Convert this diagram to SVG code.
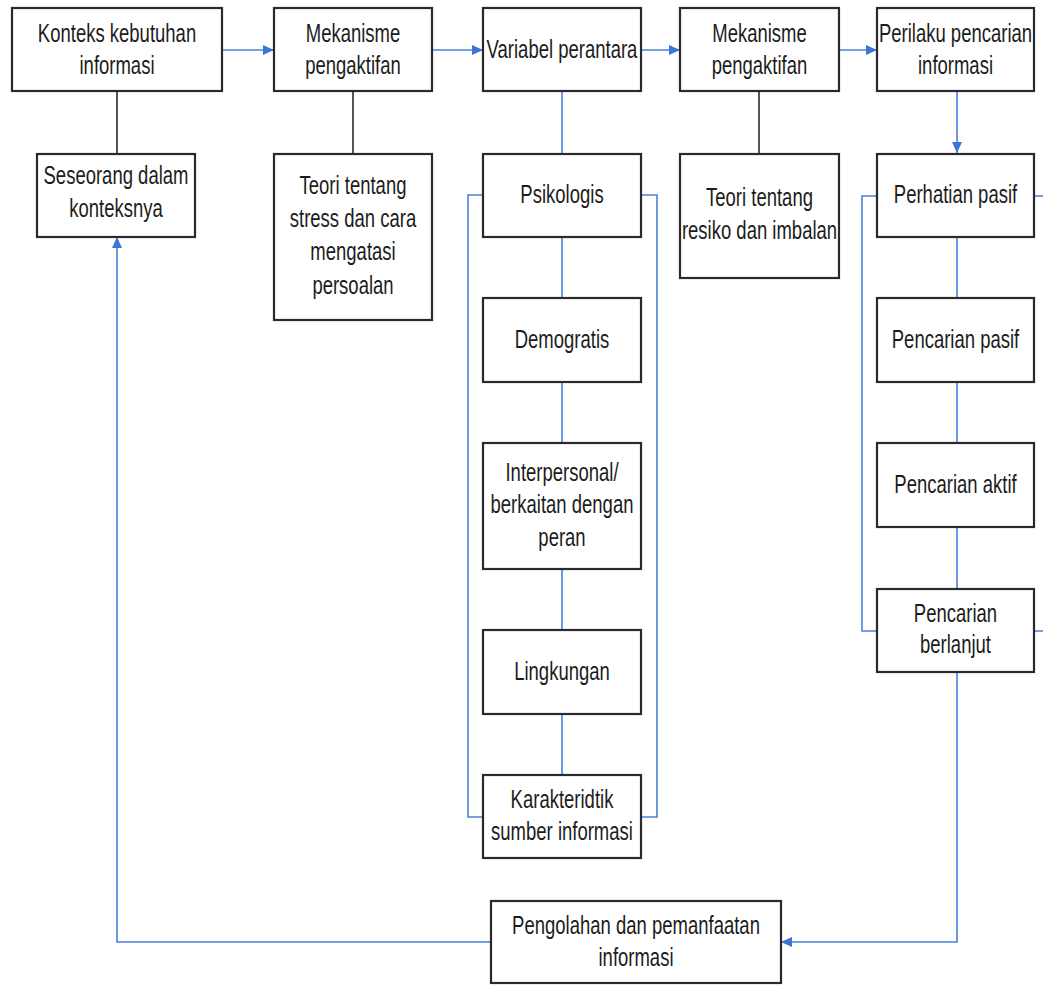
<svg xmlns="http://www.w3.org/2000/svg" width="1043" height="985" viewBox="0 0 1043 985">
<style>
.box{fill:#fff;stroke:#2a2a2a;stroke-width:2.2}
.t{font-family:"Liberation Sans",Arial,sans-serif;font-size:25px;fill:#1c1c1c;text-anchor:middle}
.bl{fill:none;stroke:#4a80dc;stroke-width:1.6}
.bk{fill:none;stroke:#2a2a2a;stroke-width:1.6}
</style>
<defs>
<marker id="ah" markerUnits="userSpaceOnUse" markerWidth="11" markerHeight="10" refX="11" refY="5" orient="auto">
<path d="M0,0 L11,5 L0,10 z" fill="#3a76d8"/>
</marker>
</defs>
<g id="connectors">
<path class="bl" d="M222,50 H274" marker-end="url(#ah)"/>
<path class="bl" d="M432,50 H483" marker-end="url(#ah)"/>
<path class="bl" d="M641,50 H680" marker-end="url(#ah)"/>
<path class="bl" d="M839,50 H877" marker-end="url(#ah)"/>
<path class="bk" d="M117,91 V153"/>
<path class="bk" d="M353,91 V154"/>
<path class="bk" d="M759,91 V154"/>
<path class="bl" d="M562,91 V153"/>
<path class="bl" d="M957,91 V153" marker-end="url(#ah)"/>
<path class="bl" d="M562,237 V298 M562,382 V443 M562,569 V630 M562,714 V775"/>
<path class="bl" d="M483,195 H468 V817 H483"/>
<path class="bl" d="M641,195 H657 V817 H641"/>
<path class="bl" d="M957,237 V298 M957,382 V443 M957,527 V589"/>
<path class="bl" d="M877,196 H862 V631 H877"/>
<path class="bl" d="M1034,196 H1043 M1034,631 H1043"/>
<path class="bl" d="M957,672 V942 H781" marker-end="url(#ah)"/>
<path class="bl" d="M491,942 H117 V237" marker-end="url(#ah)"/>
</g>
<g id="n-konteks"><rect class="box" x="12" y="8" width="210" height="83"/><text class="t" transform="translate(117 41.5) scale(.74 1)"><tspan x="0">Konteks kebutuhan</tspan><tspan x="0" dy="33">informasi</tspan></text></g>
<g id="n-mek1"><rect class="box" x="274" y="8" width="158" height="83"/><text class="t" transform="translate(353 41.5) scale(.74 1)"><tspan x="0">Mekanisme</tspan><tspan x="0" dy="33">pengaktifan</tspan></text></g>
<g id="n-variabel"><rect class="box" x="483" y="8" width="158" height="83"/><text class="t" transform="translate(562 57.5) scale(.74 1)">Variabel perantara</text></g>
<g id="n-mek2"><rect class="box" x="680" y="8" width="159" height="83"/><text class="t" transform="translate(759.5 41.5) scale(.74 1)"><tspan x="0">Mekanisme</tspan><tspan x="0" dy="33">pengaktifan</tspan></text></g>
<g id="n-perilaku"><rect class="box" x="877" y="8" width="157" height="83"/><text class="t" transform="translate(955.5 41.5) scale(.74 1)"><tspan x="0">Perilaku pencarian</tspan><tspan x="0" dy="33">informasi</tspan></text></g>
<g id="n-seseorang"><rect class="box" x="37" y="154" width="158" height="83"/><text class="t" transform="translate(116 184) scale(.74 1)"><tspan x="0">Seseorang dalam</tspan><tspan x="0" dy="33">konteksnya</tspan></text></g>
<g id="n-teori-stress"><rect class="box" x="274" y="154" width="158" height="166"/><text class="t" transform="translate(353 193.5) scale(.74 1)"><tspan x="0">Teori tentang</tspan><tspan x="0" dy="33.5">stress dan cara</tspan><tspan x="0" dy="33.5">mengatasi</tspan><tspan x="0" dy="33.5">persoalan</tspan></text></g>
<g id="n-psikologis"><rect class="box" x="483" y="154" width="158" height="83"/><text class="t" transform="translate(562 202.5) scale(.74 1)">Psikologis</text></g>
<g id="n-teori-resiko"><rect class="box" x="680" y="154" width="159" height="124"/><text class="t" transform="translate(759.5 205.5) scale(.74 1)"><tspan x="0">Teori tentang</tspan><tspan x="0" dy="34">resiko dan imbalan</tspan></text></g>
<g id="n-perhatian"><rect class="box" x="877" y="154" width="157" height="83"/><text class="t" transform="translate(955.5 202.5) scale(.74 1)">Perhatian pasif</text></g>
<g id="n-demogratis"><rect class="box" x="483" y="298" width="158" height="84"/><text class="t" transform="translate(562 347.5) scale(.74 1)">Demogratis</text></g>
<g id="n-pencarian-pasif"><rect class="box" x="877" y="298" width="157" height="84"/><text class="t" transform="translate(955.5 347.5) scale(.74 1)">Pencarian pasif</text></g>
<g id="n-interpersonal"><rect class="box" x="483" y="443" width="158" height="126"/><text class="t" transform="translate(562 480.5) scale(.74 1)"><tspan x="0">Interpersonal/</tspan><tspan x="0" dy="33">berkaitan dengan</tspan><tspan x="0" dy="33">peran</tspan></text></g>
<g id="n-pencarian-aktif"><rect class="box" x="877" y="443" width="157" height="84"/><text class="t" transform="translate(955.5 492.5) scale(.74 1)">Pencarian aktif</text></g>
<g id="n-lingkungan"><rect class="box" x="483" y="630" width="158" height="84"/><text class="t" transform="translate(562 679.5) scale(.74 1)">Lingkungan</text></g>
<g id="n-pencarian-berlanjut"><rect class="box" x="877" y="589" width="157" height="83"/><text class="t" transform="translate(955.5 621.5) scale(.74 1)"><tspan x="0">Pencarian</tspan><tspan x="0" dy="32">berlanjut</tspan></text></g>
<g id="n-karakteridtik"><rect class="box" x="483" y="775" width="158" height="83"/><text class="t" transform="translate(562 807.5) scale(.74 1)"><tspan x="0">Karakteridtik</tspan><tspan x="0" dy="33">sumber informasi</tspan></text></g>
<g id="n-pengolahan"><rect class="box" x="491" y="901" width="290" height="82"/><text class="t" transform="translate(636 933.5) scale(.74 1)"><tspan x="0">Pengolahan dan pemanfaatan</tspan><tspan x="0" dy="33">informasi</tspan></text></g>
</svg>
